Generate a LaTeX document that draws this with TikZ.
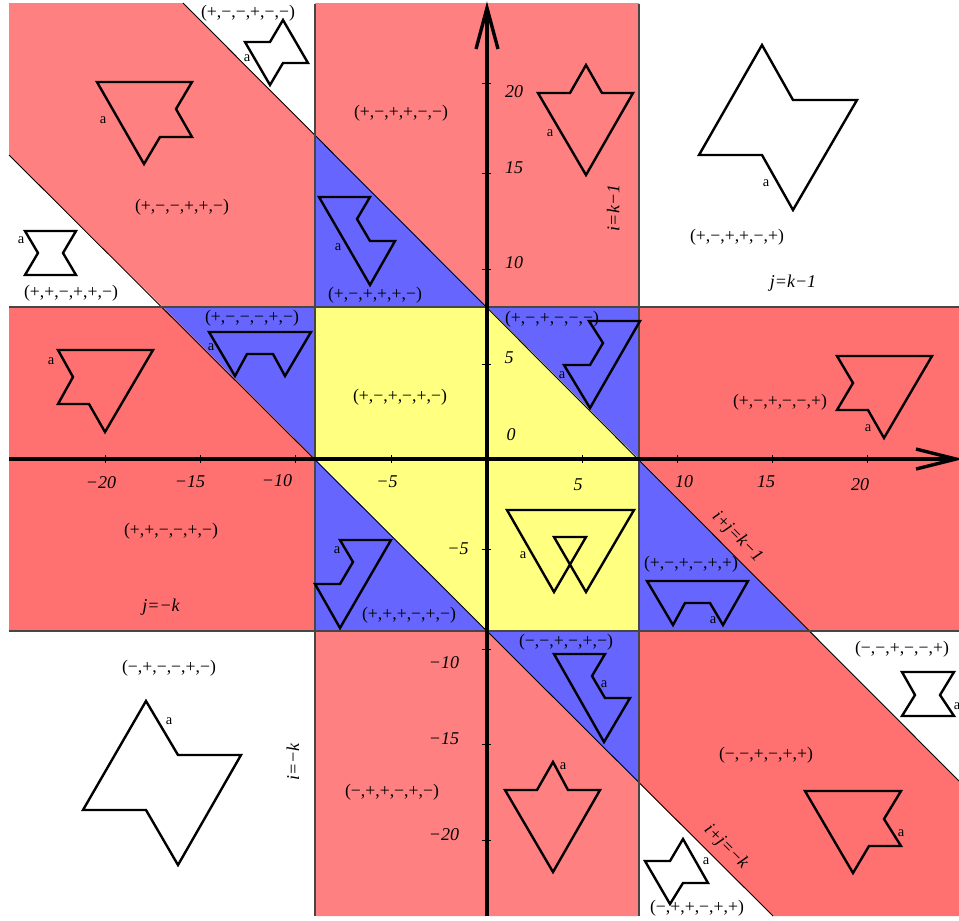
\documentclass[tikz,border=0pt]{standalone}
\usepackage{fontspec}
\setmainfont{Liberation Serif}
\definecolor{pinkA}{RGB}{255,128,128}
\definecolor{redB}{RGB}{255,112,112}
\definecolor{blueC}{RGB}{102,102,255}
\definecolor{yellowD}{RGB}{255,255,128}
\definecolor{edgeE}{RGB}{70,70,70}
\tikzset{
  pinkfill/.style={fill=pinkA,draw=none},
  redfill/.style={fill=redB,draw=none},
  bluefill/.style={fill=blueC,draw=none},
  yellowfill/.style={fill=yellowD,draw=none},
  wall/.style={draw=edgeE,line width=1.1pt},
  diag/.style={draw=black,line width=0.9pt},
  axisline/.style={draw=black,line width=3.4pt},
  tickmark/.style={draw=black,line width=0.7pt},
  flag/.style={draw=black,line width=2.4pt,line join=miter,miter limit=6},
  sign/.style={inner sep=0pt,font=\fontsize{17.7}{18}\selectfont},
  num/.style={inner sep=0pt,font=\fontsize{18}{18}\selectfont\itshape},
  tag/.style={inner sep=0pt,font=\fontsize{14.5}{15}\selectfont},
}
\begin{document}
\begin{tikzpicture}[x=1pt,y=-1pt]
\useasboundingbox (0,0) rectangle (959,921);
% regions
\path[yellowfill] (315,307)--(487,307)--(639,459)--(639,631)--(487,631)--(315,459)--cycle;
\path[bluefill] (315,135)--(487,307)--(315,307)--cycle;
\path[bluefill] (163,307)--(315,459)--(315,307)--cycle;
\path[bluefill] (487,307)--(639,307)--(639,459)--cycle;
\path[bluefill] (315,459)--(487,631)--(315,631)--cycle;
\path[bluefill] (639,459)--(809,631)--(639,631)--cycle;
\path[bluefill] (487,631)--(639,631)--(639,783)--cycle;
\path[pinkfill] (315,3)--(639,3)--(639,307)--(487,307)--(315,135)--cycle;
\path[pinkfill] (315,631)--(487,631)--(639,783)--(639,916)--(315,916)--cycle;
\path[pinkfill] (9,3)--(183,3)--(315,135)--(315,307)--(163,307)--(9,155)--cycle;
\path[redfill] (9,307)--(163,307)--(315,459)--(315,631)--(9,631)--cycle;
\path[redfill] (639,307)--(959,307)--(959,631)--(809,631)--(639,459)--cycle;
\path[redfill] (639,631)--(809,631)--(959,781)--(959,916)--(773,916)--(639,783)--cycle;
% boundary lines
\draw[diag] (183,3)--(959,781);
\draw[diag] (9,155)--(773,916);
\draw[wall] (9,307)--(959,307);
\draw[wall] (9,631)--(959,631);
\draw[wall] (315,4)--(315,916);
\draw[wall] (639,4)--(639,916);
% flags
\draw[flag] (245,42)--(270,42)--(283,20)--(308,63)--(283,63)--(270,85)--cycle;
\draw[flag] (97,82)--(192,82)--(176,109)--(192,137)--(160,137)--(144,164)--cycle;
\draw[flag] (25,231)--(76,231)--(63,253)--(76,275)--(25,275)--(38,253)--cycle;
\draw[flag] (319,197)--(370,197)--(357,219)--(370,241)--(395,241)--(370,285)--cycle;
\draw[flag] (209,332)--(311,332)--(285,376)--(273,354)--(247,354)--(235,376)--cycle;
\draw[flag] (58,350)--(153,350)--(105,432)--(89,404)--(58,404)--(73,377)--cycle;
\draw[flag] (538,93)--(570,93)--(586,65)--(602,93)--(633,93)--(586,175)--cycle;
\draw[flag] (699,155)--(762,45)--(793,100)--(857,100)--(793,210)--(762,155)--cycle;
\draw[flag] (589,321)--(640,321)--(590,408)--(564,365)--(590,365)--(603,343)--cycle;
\draw[flag] (837,356)--(932,356)--(884,438)--(868,410)--(837,410)--(853,383)--cycle;
\draw[flag] (340,540)--(391,540)--(340,628)--(315,584)--(340,584)--(353,562)--cycle;
\draw[flag] (146,701)--(178,755)--(241,755)--(178,865)--(146,810)--(83,810)--cycle;
\draw[flag] (507,510)--(634,510)--(586,592)--(554,537)--(586,537)--(554,592)--cycle;
\draw[flag] (647,581)--(748,581)--(723,625)--(710,603)--(685,603)--(673,625)--cycle;
\draw[flag] (554,654)--(605,654)--(592,676)--(605,698)--(630,698)--(604,742)--cycle;
\draw[flag] (505,790)--(537,790)--(553,762)--(568,790)--(600,790)--(553,872)--cycle;
\draw[flag] (805,791)--(901,791)--(884,819)--(901,846)--(869,846)--(853,873)--cycle;
\draw[flag] (902,672)--(954,672)--(940,695)--(954,716)--(902,716)--(915,695)--cycle;
\draw[flag] (645,861)--(670,861)--(683,839)--(708,883)--(683,883)--(670,904)--cycle;
% axes
\draw[axisline] (9,459)--(954,459);
\draw[axisline] (487,916)--(487,9);
\draw[axisline,line join=miter] (916,449)--(956,459)--(916,469);
\draw[axisline,line join=miter] (476,49)--(487,8)--(498,49);
% ticks
\foreach \tx in {105,200,295,391,582,677,772,867} \draw[tickmark] (\tx,455)--(\tx,463);
\foreach \ty in {83,173,269,364,549,649,744,840} \draw[tickmark] (482,\ty)--(491,\ty);
% sign vectors
\node[sign] (s1) at (248,13) {(+,−,−,+,−,−)};
\node[sign] (s2) at (401,113) {(+,−,+,+,−,−)};
\node[sign] (s3) at (182,207) {(+,−,−,+,+,−)};
\node[sign] (s4) at (71,293) {(+,+,−,+,+,−)};
\node[sign] (s5) at (375,295) {(+,−,+,+,+,−)};
\node[sign] (s6) at (252,318) {(+,−,−,−,+,−)};
\node[sign] (s7) at (400,397) {(+,−,+,−,+,−)};
\node[sign] (s8) at (737,237) {(+,−,+,+,−,+)};
\node[sign] (s9) at (552,319) {(+,−,+,−,−,−)};
\node[sign] (s10) at (780,402) {(+,−,+,−,−,+)};
\node[sign] (s11) at (171,531) {(+,+,−,−,+,−)};
\node[sign] (s12) at (409,615) {(+,+,+,−,+,−)};
\node[sign] (s13) at (169,668) {(−,+,−,−,+,−)};
\node[sign] (s14) at (392,792) {(−,+,+,−,+,−)};
\node[sign] (s15) at (691,564) {(+,−,+,−,+,+)};
\node[sign] (s16) at (566,642) {(−,−,+,−,+,−)};
\node[sign] (s17) at (902,649) {(−,−,+,−,−,+)};
\node[sign] (s18) at (766,755) {(−,−,+,−,+,+)};
\node[sign] (s19) at (697,908) {(−,+,+,−,+,+)};
% line names
\node[num] (l1) at (793,283) {j=k−1};
\node[num] (l2) at (161,607) {j=−k};
\node[num,rotate=90] (l3) at (613,208) {i=k−1};
\node[num,rotate=90] (l4) at (293,762) {i=−k};
\node[num,rotate=-45] (l5) at (737,537) {i+j=k−1};
\node[num,rotate=-45] (l6) at (726,847) {i+j=−k};
% axis numbers
\node[num] (y20) at (514,92) {20};
\node[num] (y15) at (514,168) {15};
\node[num] (y10) at (514,263) {10};
\node[num] (y5) at (509,358) {5};
\node[num] (o0) at (511,435) {0};
\node[num] (xm20) at (101,483) {−20};
\node[num] (xm15) at (190,482) {−15};
\node[num] (xm10) at (277,481) {−10};
\node[num] (xm5) at (387,482) {−5};
\node[num] (x5) at (578,485) {5};
\node[num] (x10) at (684,482) {10};
\node[num] (x15) at (766,482) {15};
\node[num] (x20) at (860,485) {20};
\node[num] (ym5) at (458,549) {−5};
\node[num] (ym10) at (444,663) {−10};
\node[num] (ym15) at (444,739) {−15};
\node[num] (ym20) at (444,835) {−20};
% edge tags
\foreach \n/\ax/\ay in {a1/247/58,a2/103/120,a3/21/240,a4/338/247,a5/211/347,a6/51/361,a7/550/133,a8/766/183,a9/562/375,a10/868/428,a11/337/550,a12/169/721,a13/523/555,a14/713/620,a15/604/684,a16/563/766,a17/901/833,a18/957/706,a19/706/861}
  \node[tag] (\n) at (\ax,\ay) {a};
\end{tikzpicture}
\end{document}
